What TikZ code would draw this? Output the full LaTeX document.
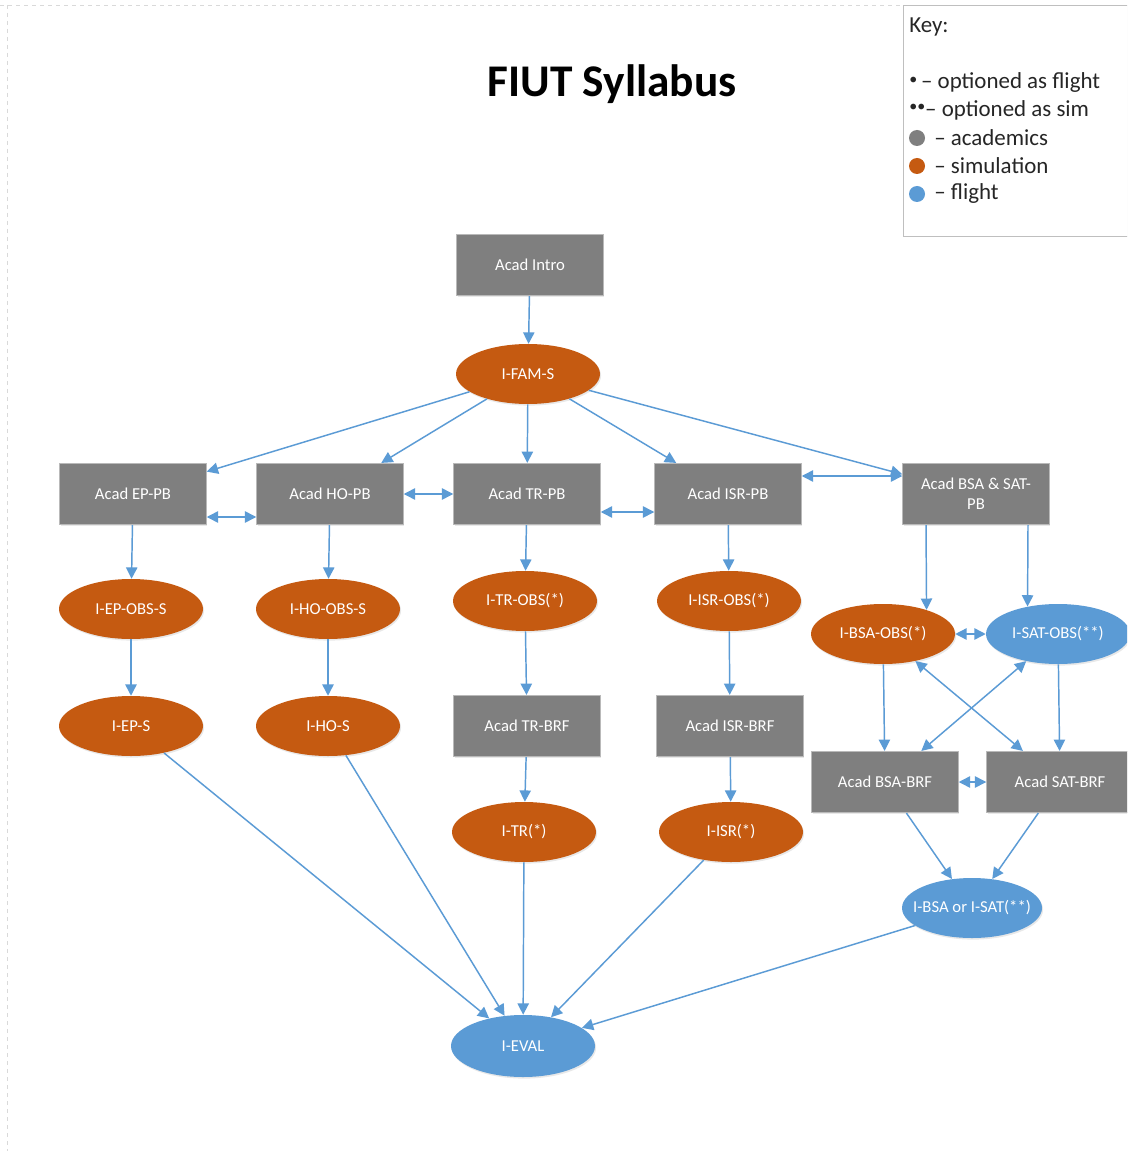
\documentclass[tikz,border=0pt]{standalone}
\usepackage{fontspec}
\setmainfont{Carlito}
\usetikzlibrary{arrows.meta,shapes.geometric,calc,shadows}
\definecolor{acad}{HTML}{7F7F7F}
\definecolor{sim}{HTML}{C55A11}
\definecolor{flt}{HTML}{5B9BD5}
\definecolor{edgec}{HTML}{5B9BD5}
\newcommand{\elltxt}[1]{\makebox[0pt]{#1}}
\begin{document}
\begin{tikzpicture}[x=0.75pt,y=-0.75pt,
  shade/.style={drop shadow={opacity=0.18,shadow xshift=0.8pt,shadow yshift=-1.2pt}},
  acadbox/.style={rectangle, fill=acad, draw=acad!55!white, line width=0.6pt,
    minimum width=110pt, minimum height=46pt, inner sep=2pt, text=white,
    font=\fontsize{12.5}{15}\selectfont, align=center, shade},
  simell/.style={ellipse, fill=sim, draw=none, minimum width=108pt, minimum height=45pt,
    inner sep=0pt, text=white, font=\fontsize{12.5}{15}\selectfont, shade},
  fltell/.style={simell, fill=flt},
  keytxt/.style={anchor=west, inner sep=0pt, font=\fontsize{17.2}{20}\selectfont, text=black!85},
  keydot/.style={circle, inner sep=0pt, minimum size=12pt},
  arr/.style={draw=edgec, line width=1.1pt, -{Triangle[length=8.5pt,width=8.5pt]}},
  darr/.style={draw=edgec, line width=1.1pt, {Triangle[length=8.5pt,width=8.5pt]}-{Triangle[length=8.5pt,width=8.5pt]}}]
\useasboundingbox (0,0) rectangle (1127,1151);
\clip (0,0) rectangle (1127,1151);
\fill[white] (0,0) rectangle (1127,1151);
% page edge
\draw[black!15, dashed, line width=0.6pt] (0,5) -- (903,5);
\draw[black!15, dashed, line width=0.6pt] (7,5) -- (7,1151);

% title
\node[font=\fontsize{34}{40}\selectfont\bfseries] (title) at (612,84) {FIUT Syllabus};

% key
\draw[black!25, fill=white, line width=0.7pt, drop shadow={opacity=0.12,shadow xshift=0.6pt,shadow yshift=-1pt}] (903,5) rectangle (1140,236);
\node[keytxt] (keyhdr) at (909,27) {Key:};
\node[keytxt] (k1) at (909,83) {{\fontsize{12}{12}\selectfont\raisebox{3.5pt}{•}}\,– optioned as flight};
\node[keytxt] (k2) at (909,110) {{\fontsize{12}{12}\selectfont\raisebox{3.5pt}{••}}– optioned as sim};
\node[keydot, fill=acad] (kd1) at (917,138) {};
\node[keydot, fill=sim] (kd2) at (917,166) {};
\node[keydot, fill=flt] (kd3) at (917,194) {};
\node[keytxt] (k3) at (934,138) {– academics};
\node[keytxt] (k4) at (934,166) {– simulation};
\node[keytxt] (k5) at (934,194) {– flight};

% nodes
\node[acadbox] (intro) at (530,265) {Acad Intro};
\node[simell] (fam) at (528,374) {\elltxt{I-FAM-S}};
\node[acadbox] (ep) at (133,494) {Acad EP-PB};
\node[acadbox] (ho) at (330,494) {Acad HO-PB};
\node[acadbox] (tr) at (527,494) {Acad TR-PB};
\node[acadbox] (isr) at (728,494) {Acad ISR-PB};
\node[acadbox] (bsasat) at (976,494) {Acad BSA \& SAT-\\PB};
\node[simell] (epobs) at (131,609) {\elltxt{I-EP-OBS-S}};
\node[simell] (hoobs) at (328,609) {\elltxt{I-HO-OBS-S}};
\node[simell] (trobs) at (525,601) {\elltxt{I-TR-OBS(*)}};
\node[simell] (isrobs) at (729,601) {\elltxt{I-ISR-OBS(*)}};
\node[simell] (bsaobs) at (883,634) {\elltxt{I-BSA-OBS(*)}};
\node[fltell] (satobs) at (1058,634) {\elltxt{I-SAT-OBS(**)}};
\node[simell] (eps) at (131,726) {\elltxt{I-EP-S}};
\node[simell] (hos) at (328,726) {\elltxt{I-HO-S}};
\node[acadbox] (trbrf) at (527,726) {Acad TR-BRF};
\node[acadbox] (isrbrf) at (730,726) {Acad ISR-BRF};
\node[acadbox] (bsabrf) at (885,782) {Acad BSA-BRF};
\node[acadbox] (satbrf) at (1060,782) {Acad SAT-BRF};
\node[simell] (trs) at (524,832) {\elltxt{I-TR(*)}};
\node[simell] (isrs) at (731,832) {\elltxt{I-ISR(*)}};
\node[fltell, minimum width=105pt] (bsaorsat) at (972,908) {\elltxt{I-BSA or I-SAT(**)}};
\node[fltell, minimum height=46.5pt] (eval) at (523,1046) {\elltxt{I-EVAL}};

% connectors
\draw[arr] (intro) -- (fam);
\draw[arr] (fam) -- (ep);
\draw[arr] (fam) -- (ho);
\draw[arr] (fam) -- (tr);
\draw[arr] (fam) -- (isr);
\draw[arr] (fam) -- (bsasat);
\draw[darr] ($(ep.east)+(0,23)$) -- ($(ho.west)+(0,23)$);
\draw[darr] (ho) -- (tr);
\draw[darr] ($(tr.east)+(0,18)$) -- ($(isr.west)+(0,18)$);
\draw[darr] ($(isr.east)+(0,-18)$) -- ($(bsasat.west)+(0,-18)$);
\draw[arr] (ep) -- (epobs);
\draw[arr] (ho) -- (hoobs);
\draw[arr] (tr) -- (trobs);
\draw[arr] (isr) -- (isrobs);
\draw[arr] ($(bsasat.south)+(-50,0)$) -- (bsaobs.29);
\draw[arr] ($(bsasat.south)+(52,0)$) -- (satobs.138);
\draw[darr] (bsaobs) -- (satobs);
\draw[arr] (epobs) -- (eps);
\draw[arr] (hoobs) -- (hos);
\draw[arr] (trobs) -- (trbrf);
\draw[arr] (isrobs) -- (isrbrf);
\draw[arr] (bsaobs) -- (bsabrf);
\draw[arr] (satobs) -- (satbrf);
\draw[darr] (bsaobs) -- (satbrf);
\draw[darr] (satobs) -- (bsabrf);
\draw[darr] (bsabrf) -- (satbrf);
\draw[arr] (trbrf) -- (trs);
\draw[arr] (isrbrf) -- (isrs);
\draw[arr] (bsabrf) -- (bsaorsat);
\draw[arr] (satbrf) -- (bsaorsat);
\draw[arr] (eps) -- (eval);
\draw[arr] (hos) -- (eval);
\draw[arr] (trs) -- (eval);
\draw[arr] (isrs) -- (eval);
\draw[arr] (bsaorsat) -- (eval);
\end{tikzpicture}
\end{document}
